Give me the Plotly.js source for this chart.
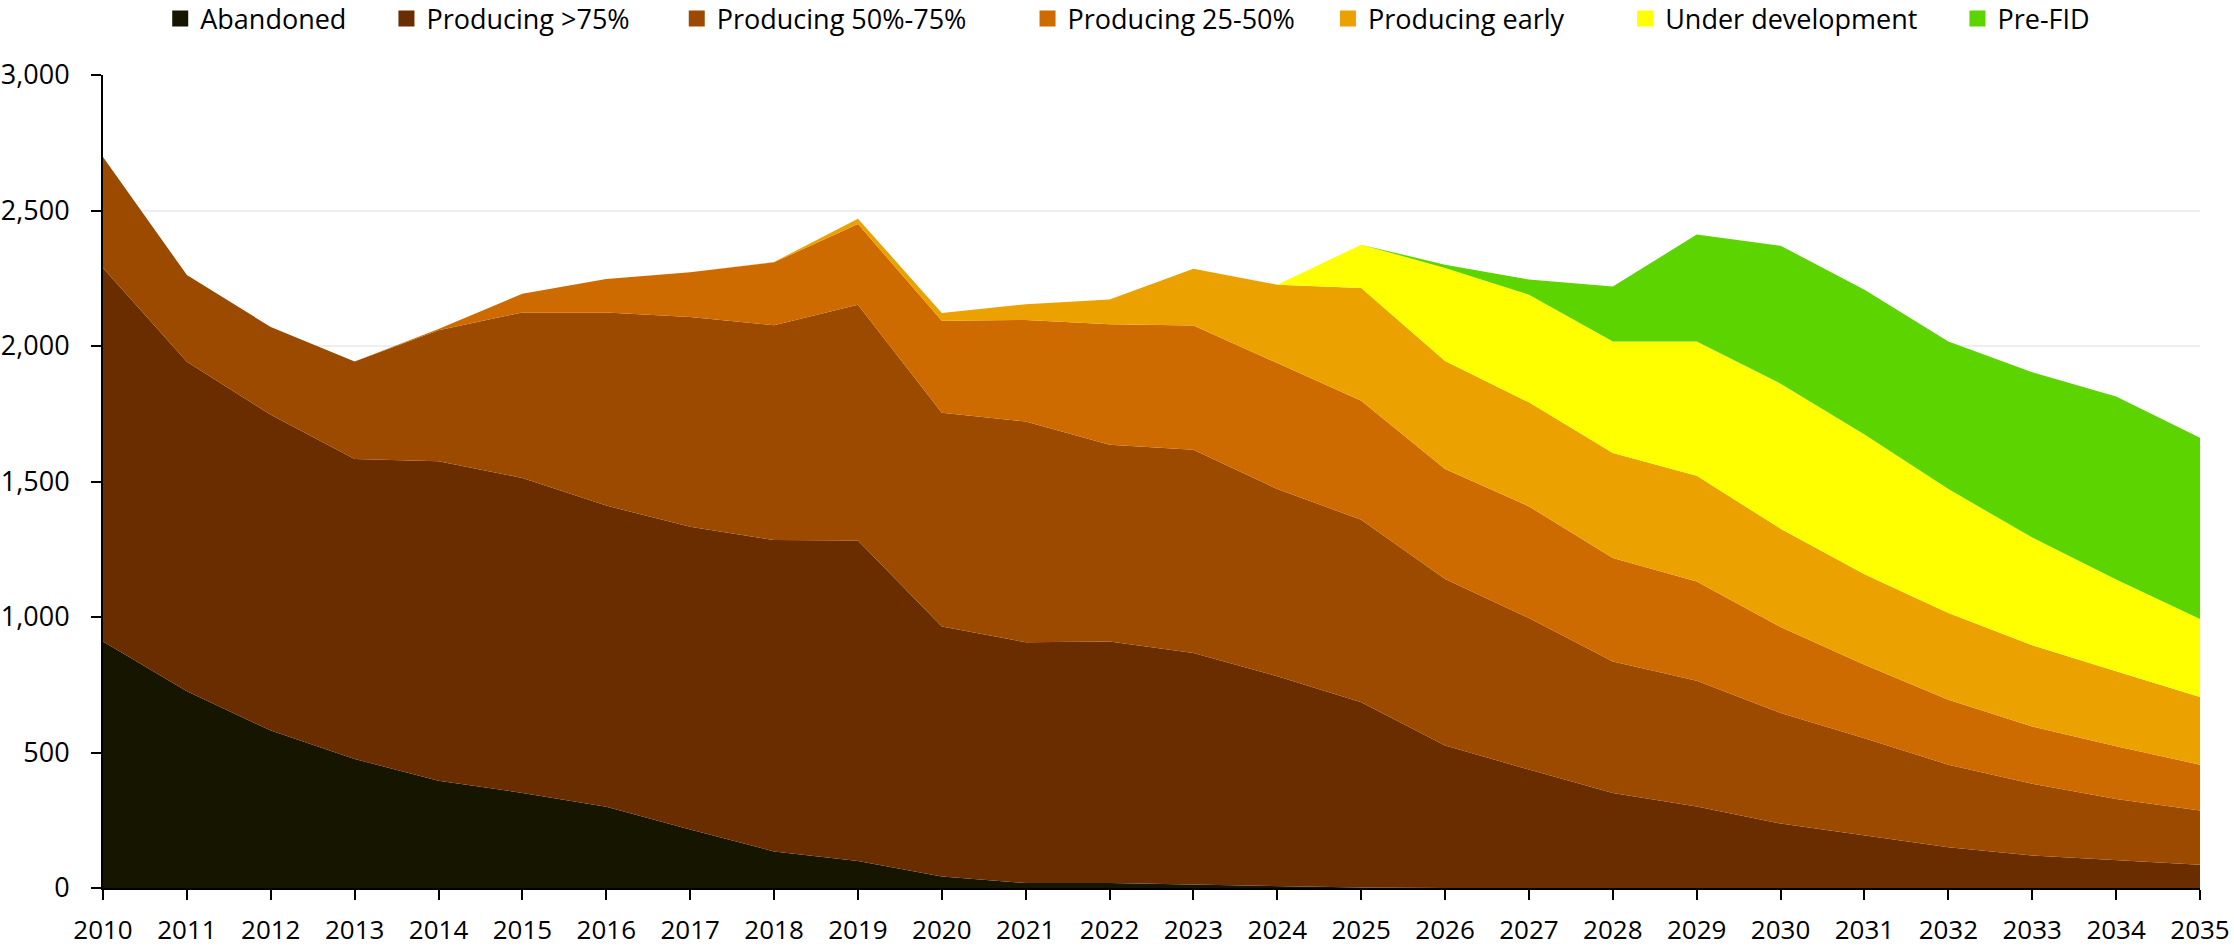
<!DOCTYPE html>
<html>
<head>
<meta charset="utf-8">
<script src="https://cdn.plot.ly/plotly-3.0.1.min.js"></script>
<style>
  html, body { margin: 0; padding: 0; background: #ffffff; }
  #chart { width: 2234px; height: 947px; }
</style>
</head>
<body>
<div id="chart"></div>
<script>
// ---- data ----
const years = [2010, 2011, 2012, 2013, 2014, 2015, 2016, 2017, 2018, 2019, 2020, 2021, 2022,
               2023, 2024, 2025, 2026, 2027, 2028, 2029, 2030, 2031, 2032, 2033, 2034, 2035];

const seriesNames = ["Abandoned", "Producing >75%", "Producing 50%-75%", "Producing 25-50%",
                     "Producing early", "Under development", "Pre-FID"];

const abandoned = [910, 726, 581, 476, 396, 351, 300, 216, 135, 100, 42, 18, 18,
                   13, 8, 2, 0, 0, 0, 0, 0, 0, 0, 0, 0, 0];
const producing75 = [1378, 1216, 1165, 1107, 1179, 1162, 1111, 1117, 1149, 1182, 923, 889, 892,
                     854, 773, 683, 526, 437, 351, 301, 238, 193, 150, 120, 104, 86];
const producing5075 = [409, 320, 324, 360, 483, 611, 713, 774, 793, 870, 789, 814, 726,
                       750, 691, 674, 614, 559, 485, 464, 408, 360, 305, 265, 224, 200];
const producing2550 = [0, 0, 0, 0, 5, 69, 123, 165, 232, 298, 339, 375, 444,
                       459, 465, 439, 406, 412, 382, 366, 317, 271, 240, 211, 195, 169];
const producingEarly = [0, 0, 0, 0, 0, 0, 0, 0, 1, 20, 29, 58, 92,
                        209, 289, 416, 399, 384, 387, 390, 363, 334, 320, 300, 277, 250];
const underDevelopment = [0, 0, 0, 0, 0, 0, 0, 0, 0, 0, 0, 0, 0,
                          0, 0, 160, 343, 397, 412, 496, 535, 515, 457, 397, 338, 288];
const preFID = [0, 0, 0, 0, 0, 0, 0, 0, 0, 0, 0, 0, 0,
                0, 0, 0, 12, 56, 203, 394, 509, 535, 545, 610, 676, 668];

const yTickVals = [0, 500, 1000, 1500, 2000, 2500, 3000];

// ---- styling ----
const colors = ["#151500", "#6a2d00", "#9b4a00", "#cd6a00", "#eba200", "#ffff00", "#5cd400"];
const values = [abandoned, producing75, producing5075, producing2550, producingEarly, underDevelopment, preFID];
const FONT = "Open Sans, Noto Sans, Liberation Sans, sans-serif";
// trailing spacing after each legend label (to match the reference item spacing)
const legendPad = [5, 6, 8, 4, 8, 5, 0];

const traces = [];
values.forEach((v, i) => {
  traces.push({
    type: "scatter",
    mode: "lines",
    x: years,
    y: v,
    name: seriesNames[i],
    stackgroup: "one",
    fillcolor: colors[i],
    line: { width: 0, color: colors[i] },
    legendgroup: "g" + i,
    showlegend: false,
    hoverinfo: "skip"
  });
});
// legend entries (square swatches)
seriesNames.forEach((n, i) => {
  traces.push({
    type: "scatter",
    mode: "markers",
    x: [null],
    y: [null],
    name: n + "\u00a0".repeat(legendPad[i]),
    legendgroup: "g" + i,
    marker: { symbol: "square", size: 18, color: colors[i] },
    hoverinfo: "skip"
  });
});

const layout = {
  width: 2234,
  height: 947,
  margin: { l: 102.6, r: 34, t: 75.3, b: 58.7, pad: 0, autoexpand: false },
  paper_bgcolor: "#ffffff",
  plot_bgcolor: "#ffffff",
  font: { family: FONT, size: 27, color: "#000000" },
  showlegend: true,
  legend: {
    orientation: "h",
    traceorder: "normal",
    xref: "container",
    yref: "container",
    x: 0.5048,
    xanchor: "center",
    y: 0.98,
    yanchor: "middle",
    font: { family: FONT, size: 27, color: "#000000" },
    itemsizing: "trace",
    bgcolor: "rgba(0,0,0,0)"
  },
  xaxis: {
    type: "linear",
    range: [2010, 2035],
    tickmode: "array",
    tickvals: years,
    ticktext: years.map(String),
    showgrid: false,
    zeroline: false,
    showline: true,
    linecolor: "#000000",
    linewidth: 2,
    ticks: "outside",
    ticklen: 10,
    tickwidth: 2,
    tickcolor: "#000000",
    ticklabelstandoff: 8,
    tickfont: { family: FONT, size: 26, color: "#000000" },
    fixedrange: true
  },
  yaxis: {
    range: [0, 3000],
    tickmode: "array",
    tickvals: yTickVals,
    ticktext: yTickVals.map(v => v.toLocaleString("en-US")),
    showgrid: true,
    gridcolor: "#eeeeee",
    gridwidth: 2,
    zeroline: false,
    showline: true,
    linecolor: "#000000",
    linewidth: 2,
    ticks: "outside",
    ticklen: 10,
    tickwidth: 2,
    tickcolor: "#000000",
    ticklabelstandoff: 16,
    tickfont: { family: FONT, size: 27, color: "#000000" },
    fixedrange: true
  },
  hovermode: false
};

Plotly.newPlot("chart", traces, layout, { staticPlot: true, displayModeBar: false });
</script>
</body>
</html>
